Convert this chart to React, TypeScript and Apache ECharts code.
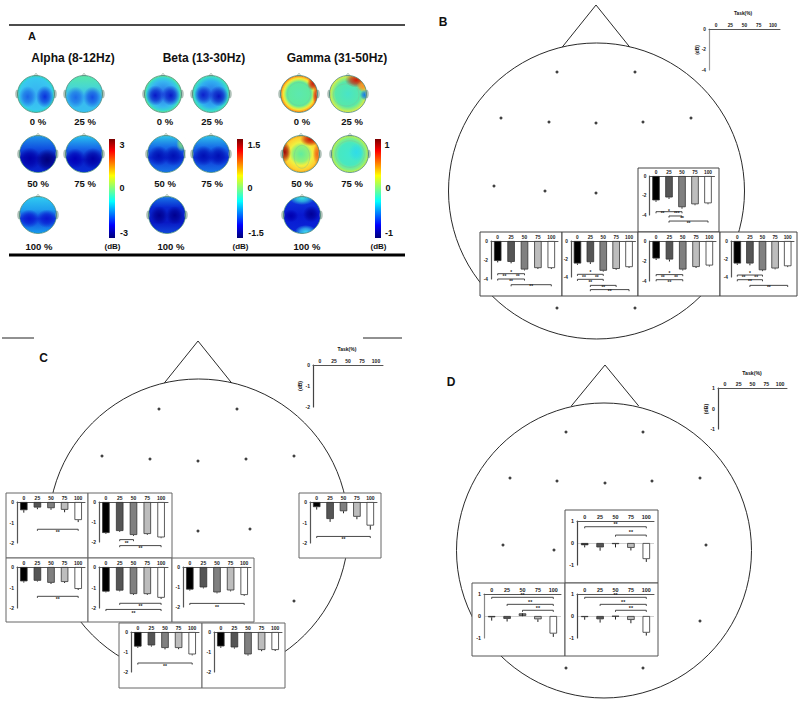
import React, { useEffect, useRef } from "react";
import * as echarts from "echarts";

const taskLabels = ["0", "25", "50", "75", "100"];
const barColors = ["#000000", "#555555", "#808080", "#bdbdbd", "#ffffff"];

// Panel B: mean change (dB), error, brackets [from, to, level], stars [cat, level, text]
const bValues = [
  [-2.5, -2.2, -3.2, -2.9, -2.8],
  [-2.1, -2.2, -3.0, -2.85, -2.85],
  [-2.5, -2.35, -3.3, -3.1, -2.9],
  [-1.75, -1.85, -2.85, -2.6, -2.45],
  [-2.5, -2.5, -3.25, -3.05, -2.8],
];
const bErrors = [
  [0.15, 0.15, 0.15, 0.1, 0.1],
  [0.15, 0.15, 0.1, 0.1, 0.1],
  [0.15, 0.2, 0.1, 0.1, 0.1],
  [0.15, 0.2, 0.1, 0.1, 0.1],
  [0.15, 0.2, 0.1, 0.1, 0.1],
];
const bBrackets = [
  [[0, 2, -3.66], [1, 2, -4.1], [1, 4, -4.62]],
  [[0, 2, -3.44], [0, 2, -4.0], [1, 4, -4.6]],
  [[0, 2, -3.7], [0, 2, -4.26], [1, 3, -4.93], [1, 4, -5.4]],
  [[0, 2, -3.36], [0, 2, -3.87]],
  [[0, 2, -3.78], [0, 2, -4.3], [1, 4, -4.93]],
];
const bStars = [
  [[1, -3.6, "*"], [0.5, -3.88, "**"], [1.6, -3.88, "***"], [2, -4.35, "**"], [2.5, -4.85, "**"]],
  [[1, -3.3, "*"], [0.5, -3.76, "**"], [1.5, -3.76, "**"], [1, -4.28, "**"], [2.5, -4.8, "**"]],
  [[1, -3.55, "*"], [0.5, -4.07, "**"], [1.5, -4.07, "**"], [1, -4.6, "**"], [2, -5.12, "**"], [2.5, -5.64, "**"]],
  [[1, -3.22, "*"], [0.5, -3.66, "**"], [1.5, -3.66, "**"], [1, -4.17, "**"]],
  [[1, -3.62, "*"], [0.5, -4.07, "**"], [1.5, -4.07, "**"], [1, -4.55, "**"], [2.5, -5.2, "**"]],
];

// Panel C
const cValues = [
  [-0.4, -0.27, -0.3, -0.38, -0.88],
  [-1.55, -1.45, -1.65, -1.6, -1.77],
  [-0.25, -0.83, -0.45, -0.72, -1.15],
  [-0.7, -0.67, -0.77, -0.73, -1.07],
  [-1.2, -1.15, -1.32, -1.32, -1.5],
  [-1.13, -1.02, -1.27, -1.17, -1.4],
  [-0.73, -0.67, -0.8, -0.8, -1.12],
  [-0.72, -0.77, -1.12, -0.9, -0.9],
];
const cErrors = [
  [0.12, 0.08, 0.08, 0.12, 0.1],
  [0.04, 0.04, 0.04, 0.04, 0.04],
  [0.12, 0.14, 0.1, 0.12, 0.2],
  [0.06, 0.04, 0.06, 0.05, 0.05],
  [0.04, 0.04, 0.04, 0.04, 0.06],
  [0.05, 0.05, 0.05, 0.05, 0.04],
  [0.06, 0.06, 0.07, 0.06, 0.05],
  [0.07, 0.06, 0.06, 0.06, 0.05],
];
const cBrackets = [
  [[1, 4, -1.33]],
  [[1, 2, -1.88], [1, 4, -2.18]],
  [[0, 4, -1.68]],
  [[1, 4, -1.43]],
  [[1, 4, -1.77], [0, 4, -2.07]],
  [[0, 4, -1.82]],
  [[0, 4, -1.55]],
  [],
];
const cStars = [
  [[2.5, -1.47, "**"]],
  [[1.5, -2.05, "**"], [2.5, -2.32, "**"]],
  [[2, -1.8, "**"]],
  [[2.5, -1.57, "**"]],
  [[2.5, -1.9, "**"], [2, -2.22, "**"]],
  [[2, -2.0, "**"]],
  [[2, -1.7, "**"]],
  [],
];

// Panel D
const dValues = [
  [-0.1, -0.2, -0.05, -0.22, -0.73],
  [-0.06, -0.13, 0.12, -0.15, -0.8],
  [-0.05, -0.15, -0.02, -0.18, -0.76],
];
const dErrors = [
  [0.1, 0.15, 0.15, 0.12, 0.13],
  [0.15, 0.12, 0.13, 0.12, 0.15],
  [0.12, 0.15, 0.14, 0.15, 0.13],
];
const dBrackets = [
  [[0, 4, 0.74], [2, 4, 0.36]],
  [[0, 4, 0.85], [1, 4, 0.53], [2, 4, 0.26]],
  [[0, 4, 0.85], [1, 4, 0.53], [2, 4, 0.26]],
];
const dStars = [
  [[2, 0.86, "**"], [3, 0.48, "**"]],
  [[2, 0.97, "**"], [2.5, 0.65, "**"], [3, 0.38, "**"]],
  [[2, 0.97, "**"], [2.5, 0.65, "**"], [3, 0.38, "**"]],
];

// Electrode positions on the head outlines (page pixels)
const bElectrodes = [[557, 72], [635, 72], [501, 118], [549, 122], [596, 123], [643, 122], [691, 118], [494, 186], [545, 191], [596, 193], [557, 308], [635, 308]];
const cElectrodes = [[159, 409], [237, 409], [102, 456], [150, 459], [198, 461], [246, 459], [294, 456], [198, 531], [250, 529], [294, 601]];
const dElectrodes = [[566, 432], [643, 432], [510, 478], [557, 481], [605, 483], [652, 481], [700, 478], [503, 545], [554, 550], [706, 545], [700, 621], [566, 668], [643, 668]];

// ---- layout, separate from the values ----
type Box = { box: number[]; g: number[] };
const bLayout: Box[] = [
  { box: [638, 168, 719, 232], g: [649.5, 176, 714.5, 215] },
  { box: [480, 232, 562, 296], g: [491, 241, 558, 279] },
  { box: [562, 232, 638, 296], g: [571, 241, 635.5, 277] },
  { box: [638, 232, 720, 296], g: [649.5, 241, 716, 281] },
  { box: [720, 232, 797, 296], g: [731, 241, 794, 277] },
];
const cLayout: Box[] = [
  { box: [6, 493, 88, 558], g: [17, 502, 85, 543] },
  { box: [88, 493, 172, 558], g: [99, 502, 168, 542] },
  { box: [299, 493, 381, 558], g: [310, 502, 377, 543] },
  { box: [6, 558, 88, 622], g: [17, 567, 85, 608] },
  { box: [88, 558, 172, 622], g: [99, 567, 168, 608] },
  { box: [172, 558, 254, 622], g: [183, 567, 251, 607] },
  { box: [119, 623, 202, 688], g: [131, 632, 199, 672] },
  { box: [202, 623, 285, 688], g: [214, 632, 282, 672] },
];
const dLayout: Box[] = [
  { box: [565, 510, 658, 583], g: [577, 521, 654, 565] },
  { box: [472, 583, 565, 656], g: [484, 594, 561, 638] },
  { box: [565, 583, 658, 656], g: [577, 594, 654, 638] },
];

const FONT = "Liberation Sans";

function hexA(c: string, a: number) {
  const n = parseInt(c.slice(1), 16);
  return `rgba(${(n >> 16) & 255},${(n >> 8) & 255},${n & 255},${a})`;
}

// Topographic maps: base colour stops and soft blobs [dx, dy, rx, ry, colour]; contour is an optional ellipse
type Topo = { at: number[]; radial: boolean; stops: [number, string][]; blobs: [number, number, number, number, string][]; contour?: number[] };
const topoMaps: Topo[] = [
  { at: [36, 94], radial: true, stops: [[0, "#38b0f2"], [0.85, "#38c8f0"], [1, "#30d8c0"]], blobs: [[-0.45, 0.15, 0.48, 0.58, "#1a66e6"], [0.48, 0.15, 0.48, 0.6, "#0a30dc"]] },
  { at: [84, 94], radial: false, stops: [[0, "#58e8a8"], [0.3, "#48d8d0"], [0.55, "#38b8f0"], [1, "#38c0f0"]], blobs: [[-0.45, 0.18, 0.5, 0.58, "#1c6ce8"], [0.45, 0.18, 0.5, 0.58, "#1450e4"]] },
  { at: [38, 154], radial: false, stops: [[0, "#2098ea"], [0.35, "#1050e0"], [0.6, "#0818c0"], [1, "#0828d0"]], blobs: [[-0.45, 0.25, 0.6, 0.6, "#0000a8"], [0.5, 0.32, 0.6, 0.6, "#00007c"]] },
  { at: [84, 154], radial: false, stops: [[0, "#28c4f0"], [0.35, "#1868e8"], [0.65, "#0820c8"], [1, "#0830d8"]], blobs: [[-0.48, 0.25, 0.55, 0.55, "#0000b8"], [0.48, 0.25, 0.58, 0.58, "#0000a4"]] },
  { at: [38, 215], radial: false, stops: [[0, "#30ccf0"], [0.35, "#20a0ee"], [0.6, "#1040e0"], [1, "#18a0ee"]], blobs: [[-0.48, 0.2, 0.55, 0.5, "#0818d0"], [0.48, 0.2, 0.55, 0.5, "#0818d0"]] },

  { at: [163, 94], radial: true, stops: [[0, "#2868ea"], [0.7, "#38b8f0"], [0.9, "#38d8d0"], [1, "#70e880"]], blobs: [[-0.42, 0.08, 0.5, 0.55, "#0818c8"], [0.42, 0.08, 0.5, 0.55, "#0818c8"]] },
  { at: [211, 94], radial: true, stops: [[0, "#2868ea"], [0.7, "#30b0f0"], [0.9, "#38d8d0"], [1, "#50e0a8"]], blobs: [[-0.42, 0.05, 0.48, 0.52, "#0c20cc"], [0.42, 0.12, 0.52, 0.56, "#0814c0"]] },
  { at: [166, 154], radial: false, stops: [[0, "#30c8e8"], [0.3, "#1870e8"], [0.6, "#0c30d8"], [1, "#1878e8"]], blobs: [[-0.4, 0.1, 0.55, 0.55, "#0010b4"], [0.4, 0.1, 0.55, 0.55, "#0010b4"], [0.85, -0.55, 0.3, 0.42, "#80e080"]] },
  { at: [211, 154], radial: false, stops: [[0, "#30c4ea"], [0.3, "#1870e8"], [0.6, "#0c30d8"], [1, "#1878e8"]], blobs: [[-0.4, 0.1, 0.55, 0.55, "#0010b4"], [0.4, 0.1, 0.55, 0.55, "#0010b4"]] },
  { at: [167, 215], radial: false, stops: [[0, "#1878e8"], [0.3, "#0828d0"], [0.7, "#0818c4"], [1, "#1048dc"]], blobs: [[-0.42, 0.02, 0.48, 0.5, "#000090"], [0.42, 0.02, 0.48, 0.5, "#000090"]] },

  { at: [299, 94], radial: true, contour: [0, 0, 0.62, 0.62], stops: [[0, "#5ce8b0"], [0.66, "#60ea9c"], [0.76, "#b8f060"], [0.84, "#f4e838"], [0.93, "#ffb020"], [1, "#f06010"]], blobs: [[0.75, -0.55, 0.32, 0.36, "#c82010"], [0.92, 0.1, 0.2, 0.5, "#d83818"]] },
  { at: [348, 94], radial: true, contour: [-0.1, 0.05, 0.7, 0.6], stops: [[0, "#48e4c8"], [0.68, "#58e8a8"], [0.88, "#a8f068"], [1, "#f0e840"]], blobs: [[0.45, -0.75, 0.62, 0.4, "#d01808"], [0.8, -0.42, 0.35, 0.3, "#ff9020"], [0.92, 0.05, 0.28, 0.3, "#0878f0"]] },
  { at: [301, 154], radial: true, contour: [0.05, 0.15, 0.42, 0.62], stops: [[0, "#60eca0"], [0.42, "#90f078"], [0.62, "#f0f040"], [0.88, "#ffd030"], [1, "#f0a020"]], blobs: [[-0.88, -0.1, 0.34, 0.55, "#a00808"], [0.5, -0.78, 0.55, 0.36, "#c81808"], [0.88, 0, 0.24, 0.55, "#f06818"]] },
  { at: [350, 154], radial: true, contour: [0, 0, 0.78, 0.72], stops: [[0, "#40e8d0"], [0.6, "#48e8c0"], [0.85, "#80ee88"], [1, "#c8f040"]], blobs: [[0.35, -0.1, 0.42, 0.5, "#30dce8"]] },
  { at: [302, 215], radial: false, stops: [[0, "#1040e0"], [0.5, "#0818d0"], [1, "#0a28d8"]], blobs: [[0, -0.92, 0.7, 0.38, "#38e0e0"], [0.2, 0.92, 0.6, 0.38, "#40d8f0"], [0.5, -0.05, 0.45, 0.45, "#000098"], [-0.6, 0.05, 0.4, 0.35, "#0000b0"]] },
];

const R_TOPO = 18.5;

function topoElements(t: Topo) {
  const [cx, cy] = t.at;
  const els: any[] = [];
  els.push({
    type: "circle",
    shape: { cx, cy, r: R_TOPO },
    style: {
      fill: t.radial
        ? { type: "radial", x: 0.5, y: 0.5, r: 0.5, colorStops: t.stops.map(([offset, color]) => ({ offset, color })) }
        : { type: "linear", x: 0, y: 0, x2: 0, y2: 1, colorStops: t.stops.map(([offset, color]) => ({ offset, color })) },
    },
  });
  t.blobs.forEach(([dx, dy, rx, ry, c]) => {
    els.push({
      type: "ellipse",
      shape: { cx: cx + dx * R_TOPO, cy: cy + dy * R_TOPO, rx: rx * R_TOPO, ry: ry * R_TOPO },
      style: {
        fill: {
          type: "radial", x: 0.5, y: 0.5, r: 0.5,
          colorStops: [{ offset: 0, color: hexA(c, 1) }, { offset: 0.5, color: hexA(c, 0.65) }, { offset: 1, color: hexA(c, 0) }],
        },
      },
    });
  });
  if (t.contour) {
    const [dx, dy, rx, ry] = t.contour;
    els.push({
      type: "ellipse",
      shape: { cx: cx + dx * R_TOPO, cy: cy + dy * R_TOPO, rx: rx * R_TOPO, ry: ry * R_TOPO },
      style: { fill: "none", stroke: "#7cc098", lineWidth: 0.4 },
    });
  }
  // white mask hides what spills over the scalp, then the outline
  els.push({ type: "ring", shape: { cx, cy, r: R_TOPO + 7, r0: R_TOPO }, style: { fill: "#ffffff" } });
  [-1, 1].forEach((s) =>
    els.push({
      type: "ellipse",
      shape: { cx: cx + s * (R_TOPO + 0.6), cy, rx: 1.3, ry: 4 },
      style: { fill: "#b4c4bc", stroke: "#8aa498", lineWidth: 0.4 },
    })
  );
  els.push({
    type: "polygon",
    shape: { points: [[cx - 2.5, cy - R_TOPO + 0.5], [cx, cy - R_TOPO - 2.5], [cx + 2.5, cy - R_TOPO + 0.5]] },
    style: { fill: "#dce4dc", stroke: "#8aa498", lineWidth: 0.4 },
  });
  els.push({ type: "circle", shape: { cx, cy, r: R_TOPO }, style: { fill: "none", stroke: "#2f7a68", lineWidth: 0.7 } });
  return els;
}

function label(x: number, y: number, text: string, size: number, extra: any = {}) {
  return {
    type: "text",
    x,
    y,
    ...extra,
    style: { text, fontFamily: FONT, fontWeight: "bold", fontSize: size, fill: "#111111", align: "center", verticalAlign: "middle" },
  };
}

function headElements(cx: number, cy: number, r: number, apex: number[], baseY: number, half: number) {
  return [
    { type: "circle", shape: { cx, cy, r }, style: { fill: "#ffffff", stroke: "#2a2a2a", lineWidth: 1 } },
    {
      type: "polyline",
      shape: { points: [[apex[0] - half, baseY], apex, [apex[0] + half, baseY]] },
      style: { fill: "none", stroke: "#2a2a2a", lineWidth: 1 },
    },
  ];
}

function catX(api: any, c: number, v: number) {
  const lo = Math.floor(c);
  const hi = Math.ceil(c);
  const a = api.coord([lo, v]);
  const b = api.coord([hi, v]);
  return [a[0] + (b[0] - a[0]) * (c - lo), a[1]];
}

function App() {
  const ref = useRef<HTMLDivElement>(null);
  useEffect(() => {
    const chart = echarts.init(ref.current!, undefined, { renderer: "svg" });

    const grids: any[] = [];
    const xAxes: any[] = [];
    const yAxes: any[] = [];
    const series: any[] = [];

    const addAxes = (g: number[], min: number, max: number, interval: number, size: number, axisColor: string) => {
      grids.push({ left: g[0], top: g[1], width: g[2] - g[0], height: g[3] - g[1] });
      const idx = grids.length - 1;
      xAxes.push({
        gridIndex: idx,
        type: "category",
        position: "top",
        data: taskLabels,
        z: 3,
        axisLine: { onZero: false, lineStyle: { color: "#555555", width: 1 } },
        axisTick: { show: false },
        axisLabel: { interval: 0, margin: 1.5, fontFamily: FONT, fontWeight: "bold", fontSize: size, color: "#222222" },
      });
      yAxes.push({
        gridIndex: idx,
        type: "value",
        min,
        max,
        interval,
        z: 3,
        splitLine: { show: false },
        axisTick: { show: false },
        axisLine: { show: true, onZero: false, lineStyle: { color: axisColor, width: 1.2 } },
        axisLabel: { margin: 3, fontFamily: FONT, fontWeight: "bold", fontSize: size, color: "#222222" },
      });
      return idx;
    };

    const addPanel = (
      layout: Box, values: number[], errors: number[], brackets: any[], stars: any[],
      min: number, max: number, interval: number, size: number, axisColor: string, zeroLine: boolean
    ) => {
      const idx = addAxes(layout.g, min, max, interval, size, axisColor);
      series.push({
        type: "bar",
        xAxisIndex: idx,
        yAxisIndex: idx,
        z: 4,
        barWidth: 7.5,
        data: values.map((v, i) => ({
          value: v,
          itemStyle: { color: barColors[i], borderColor: "#333333", borderWidth: 0.8 },
        })),
        ...(zeroLine
          ? {
              markLine: {
                silent: true,
                symbol: "none",
                label: { show: false },
                lineStyle: { color: "#cfcfcf", width: 1, type: "solid" },
                data: [{ yAxis: 0 }],
                z: 1,
              },
            }
          : {}),
      });
      series.push({
        type: "custom",
        xAxisIndex: idx,
        yAxisIndex: idx,
        z: 5,
        itemStyle: { color: "#222222" },
        data: values.map((v, i) => [i, v]),
        renderItem: (p: any, api: any) => {
          const v = values[p.dataIndex];
          const a = api.coord([p.dataIndex, v]);
          const b = api.coord([p.dataIndex, v - errors[p.dataIndex]]);
          return {
            type: "line",
            shape: { x1: a[0], y1: a[1], x2: b[0], y2: b[1] },
            style: { stroke: "#222222", lineWidth: 1 },
          };
        },
      });
      if (brackets.length) {
        series.push({
          type: "custom",
          xAxisIndex: idx,
          yAxisIndex: idx,
          z: 5,
          clip: false,
          itemStyle: { color: "#333333" },
          data: brackets.map((b) => [b[0], b[2]]),
          renderItem: (p: any, api: any) => {
            const b = brackets[p.dataIndex];
            const a = api.coord([b[0], b[2]]);
            const e = api.coord([b[1], b[2]]);
            return {
              type: "polyline",
              shape: { points: [[a[0], a[1] + 1.6], a, e, [e[0], e[1] + 1.6]] },
              style: { fill: "none", stroke: "#333333", lineWidth: 0.9 },
            };
          },
        });
        series.push({
          type: "custom",
          xAxisIndex: idx,
          yAxisIndex: idx,
          z: 5,
          clip: false,
          itemStyle: { color: "#222222" },
          data: stars.map((s) => [Math.round(s[0]), s[1]]),
          renderItem: (p: any, api: any) => {
            const s = stars[p.dataIndex];
            const c = catX(api, s[0], s[1]);
            return {
              type: "text",
              x: c[0],
              y: c[1],
              style: { text: s[2], fontFamily: FONT, fontWeight: "bold", fontSize: size, fill: "#222222", align: "center", verticalAlign: "middle" },
            };
          },
        });
      }
    };

    bLayout.forEach((l, i) => addPanel(l, bValues[i], bErrors[i], bBrackets[i], bStars[i], -4, 0, 2, 4.8, "#555555", false));
    cLayout.forEach((l, i) => addPanel(l, cValues[i], cErrors[i], cBrackets[i], cStars[i], -2, 0, 1, 5, "#555555", false));
    dLayout.forEach((l, i) => addPanel(l, dValues[i], dErrors[i], dBrackets[i], dStars[i], -1, 1, 1, 5.4, i === 1 ? "#888888" : "#444444", true));

    // templates with bare axes
    addAxes([709, 29, 780, 70], -4, 0, 2, 4.8, "#999999");
    addAxes([313, 365, 383, 407], -2, 0, 1, 5, "#444444");
    addAxes([718, 388, 787, 429], -1, 1, 1, 5.2, "#444444");

    // electrode dots on a full-page pixel grid
    const full = grids.length;
    grids.push({ left: 0, top: 0, width: 800, height: 709 });
    xAxes.push({ gridIndex: full, type: "value", min: 0, max: 800, show: false });
    yAxes.push({ gridIndex: full, type: "value", min: 0, max: 709, inverse: true, show: false });
    series.push({
      type: "scatter",
      xAxisIndex: full,
      yAxisIndex: full,
      z: 1,
      symbol: "circle",
      symbolSize: 3,
      itemStyle: { color: "#111111" },
      data: [...bElectrodes, ...cElectrodes, ...dElectrodes],
    });

    // ---- graphic layer ----
    const graphic: any[] = [];
    graphic.push({ type: "line", shape: { x1: 9, y1: 25, x2: 405, y2: 25 }, style: { stroke: "#111111", lineWidth: 1.5 } });
    graphic.push({ type: "line", shape: { x1: 9, y1: 255, x2: 405, y2: 255 }, style: { stroke: "#000000", lineWidth: 3 } });
    graphic.push({ type: "line", shape: { x1: 2, y1: 338, x2: 34, y2: 338 }, style: { stroke: "#222222", lineWidth: 1 } });
    graphic.push({ type: "line", shape: { x1: 363, y1: 338, x2: 402, y2: 338 }, style: { stroke: "#222222", lineWidth: 1 } });

    graphic.push(label(32, 36, "A", 11));
    graphic.push(label(443, 22, "B", 12));
    graphic.push(label(43.5, 358, "C", 12));
    graphic.push(label(451, 381.5, "D", 12));

    graphic.push(label(73, 58, "Alpha (8-12Hz)", 12));
    graphic.push(label(204, 58, "Beta (13-30Hz)", 12));
    graphic.push(label(337, 58, "Gamma (31-50Hz)", 12));

    topoMaps.forEach((t) => graphic.push(...topoElements(t)));

    const pct: [number, number, string][] = [
      [38, 121, "0 %"], [85, 121, "25 %"], [38, 183, "50 %"], [85, 183, "75 %"], [39, 246, "100 %"],
      [165, 121, "0 %"], [212, 121, "25 %"], [165, 183, "50 %"], [212, 183, "75 %"], [171, 246, "100 %"],
      [302, 121, "0 %"], [352, 121, "25 %"], [302, 183, "50 %"], [352, 183, "75 %"], [307, 246, "100 %"],
    ];
    pct.forEach(([x, y, s]) => graphic.push(label(x, y, s, 9.5)));

    const jet = [
      { offset: 0, color: "#7a0000" }, { offset: 0.12, color: "#ff0000" }, { offset: 0.37, color: "#ffff00" },
      { offset: 0.5, color: "#80ff80" }, { offset: 0.63, color: "#00ffff" }, { offset: 0.87, color: "#0000ff" }, { offset: 1, color: "#000078" },
    ];
    const bars: [number, string, string, number, number][] = [
      [109, "3", "-3", 122, 124],
      [237, "1.5", "-1.5", 254, 256],
      [375, "1", "-1", 387, 389],
    ];
    bars.forEach(([x, hi, lo, hx, lx]) => {
      graphic.push({
        type: "rect",
        shape: { x, y: 139, width: 6, height: 99 },
        style: { fill: { type: "linear", x: 0, y: 0, x2: 0, y2: 1, colorStops: jet } },
      });
      graphic.push(label(hx, 145, hi, 9));
      graphic.push(label(x + 13, 188, "0", 9));
      graphic.push(label(lx, 233, lo, 9));
      graphic.push(label(x + 3.5, 246, "(dB)", 8));
    });

    // Heads
    graphic.push(...headElements(596.5, 191, 148, [596, 5], 47, 33.7));
    graphic.push(...headElements(198.5, 529, 150, [198, 341], 383, 33.7));
    graphic.push(...headElements(604, 550.5, 147.5, [605, 365], 406, 33.7));

    // Panel boxes over the head outlines
    const boxes = (list: Box[], color: string) =>
      list.forEach((l) => {
        const [x0, y0, x1, y1] = l.box;
        graphic.push({
          type: "rect",
          shape: { x: x0, y: y0, width: x1 - x0, height: y1 - y0 },
          style: { fill: "#ffffff", stroke: color, lineWidth: 1 },
        });
      });
    boxes(bLayout, "#444444");
    boxes(cLayout, "#666666");
    boxes(dLayout, "#555555");

    // template captions
    graphic.push(label(743, 13, "Task(%)", 4.8));
    graphic.push(label(697, 50, "(dB)", 4.8, { rotation: Math.PI / 2 }));
    graphic.push(label(347, 349, "Task(%)", 5));
    graphic.push(label(300, 386, "(dB)", 5, { rotation: Math.PI / 2 }));
    graphic.push(label(752, 373, "Task(%)", 5.2));
    graphic.push(label(706, 409, "(dB)", 5.2, { rotation: Math.PI / 2 }));

    chart.setOption({
      animation: false,
      backgroundColor: "#ffffff",
      color: ["#222222"],
      grid: grids,
      xAxis: xAxes,
      yAxis: yAxes,
      series,
      graphic: { elements: graphic },
    });
    return () => chart.dispose();
  }, []);
  return <div ref={ref} style={{ position: "absolute", left: 0, top: 0, width: 800, height: 709, opacity: 0.999 }} />;
}

export default App;
